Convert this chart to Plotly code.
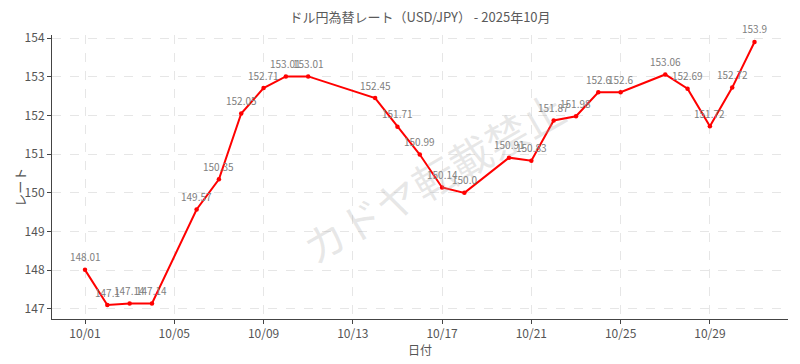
import plotly.graph_objects as go

dates = ["2025-10-01","2025-10-02","2025-10-03","2025-10-04","2025-10-06","2025-10-07",
         "2025-10-08","2025-10-09","2025-10-10","2025-10-11","2025-10-14","2025-10-15",
         "2025-10-16","2025-10-17","2025-10-18","2025-10-20","2025-10-21","2025-10-22",
         "2025-10-23","2025-10-24","2025-10-25","2025-10-27","2025-10-28","2025-10-29",
         "2025-10-30","2025-10-31"]
rates = [148.01,147.1,147.14,147.14,149.57,150.35,152.05,152.71,153.01,153.01,152.45,151.71,
         150.99,150.14,150.0,150.91,150.83,151.87,151.98,152.6,152.6,153.06,152.69,151.72,
         152.72,153.9]
labels = [str(v) for v in rates]
tick_vals = ["2025-10-01","2025-10-05","2025-10-09","2025-10-13","2025-10-17",
             "2025-10-21","2025-10-25","2025-10-29"]
tick_text = ["10/01","10/05","10/09","10/13","10/17","10/21","10/25","10/29"]

FONT = "Liberation Sans Narrow, Noto Sans CJK JP, sans-serif"
L, R, T, B = 52, 788, 35, 319.3

fig = go.Figure()
fig.add_trace(go.Scatter(
    x=dates, y=rates, mode="lines+markers",
    line=dict(color="#ff0000", width=2),
    marker=dict(color="#ff0000", size=4.5),
    showlegend=False, cliponaxis=False,
))

annotations = []
for d, v, t in zip(dates, rates, labels):
    annotations.append(dict(x=d, y=v, text=t, showarrow=False, yshift=13,
                            font=dict(size=10, color="#808080", family=FONT)))
annotations.append(dict(x=(433 - L) / (R - L), y=1 - (177 - T) / (B - T),
                        xref="paper", yref="paper", text="カドヤ転載禁止",
                        showarrow=False, textangle=-30,
                        font=dict(size=42, color="rgba(170,170,170,0.28)", family="Noto Sans CJK JP")))
annotations.append(dict(x=(20 - L) / (R - L), y=1 - (188 - T) / (B - T),
                        xref="paper", yref="paper", text="レート",
                        xanchor="center", yanchor="middle",
                        showarrow=False, textangle=-90,
                        font=dict(size=13, color="#555555", family="Noto Sans CJK JP")))

fig.update_layout(
    width=800, height=364,
    margin=dict(l=L, r=800 - R, t=T, b=364 - B),
    paper_bgcolor="white", plot_bgcolor="white",
    title=dict(text="ドル円為替レート（USD/JPY） - 2025年10月", x=0.525, xanchor="center",
               y=0.953, yanchor="middle",
               font=dict(size=13, color="#5a5a5a", family=FONT)),
    annotations=annotations,
    xaxis=dict(type="date", range=["2025-09-29 12:30", "2025-11-01 12:00"],
               tickvals=tick_vals, ticktext=tick_text,
               showgrid=True, gridcolor="#e6e6e6", griddash="dash",
               showline=True, linecolor="#444444", linewidth=1,
               ticks="outside", ticklen=4, tickcolor="#444444",
               tickfont=dict(size=12, color="#555555", family=FONT),
               title=dict(text="日付", font=dict(size=12, color="#555555", family=FONT), standoff=3),
               zeroline=False),
    yaxis=dict(range=[146.74, 154.08], dtick=1,
               showgrid=True, gridcolor="#e6e6e6", griddash="dash",
               showline=True, linecolor="#444444", linewidth=1,
               ticks="outside", ticklen=4, tickcolor="#444444",
               tickfont=dict(size=12, color="#555555", family=FONT),
               zeroline=False),
)

fig.write_html("out.html")
